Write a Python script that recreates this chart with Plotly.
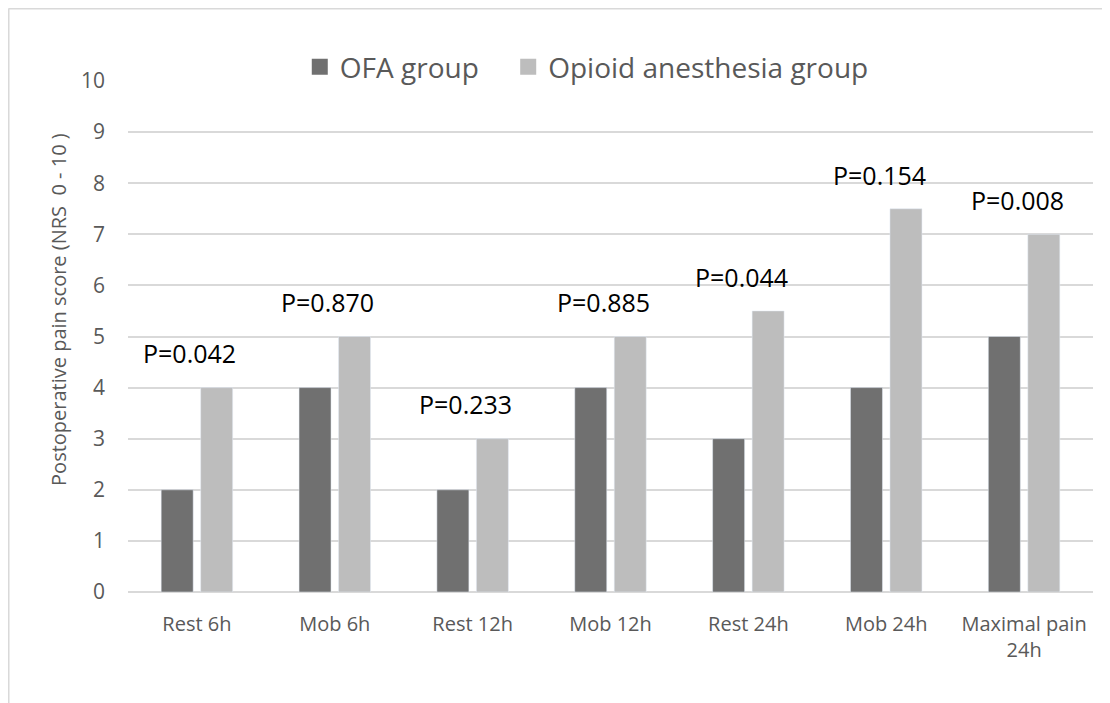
import plotly.graph_objects as go

# Datos
categories = ["Rest 6h", "Mob 6h", "Rest 12h", "Mob 12h", "Rest 24h", "Mob 24h", "Maximal pain<br>24h"]
ofa_group = [2, 4, 2, 4, 3, 4, 5]
opioid_group = [4, 5, 3, 5, 5.5, 7.5, 7]
p_values = ["P=0.042", "P=0.870", "P=0.233", "P=0.885", "P=0.044", "P=0.154", "P=0.008"]

font_name = "Open Sans"
gray_text = "#595959"
grid_color = "#D9D9D9"
ofa_color = "#707070"
opioid_color = "#BDBDBD"

fig = go.Figure()
fig.add_trace(go.Bar(x=categories, y=ofa_group, name="OFA group", marker_color=ofa_color, showlegend=False))
fig.add_trace(go.Bar(x=categories, y=opioid_group, name="Opioid anesthesia group", marker_color=opioid_color, showlegend=False))

# Leyenda con cuadrados más grandes (trazas vacías), una leyenda por elemento para fijar el espacio
fig.add_trace(go.Scatter(x=[None], y=[None], mode="markers", name="OFA group", legend="legend",
                         marker=dict(symbol="square", size=17, color=ofa_color)))
fig.add_trace(go.Scatter(x=[None], y=[None], mode="markers", name="Opioid anesthesia group", legend="legend2",
                         marker=dict(symbol="square", size=17, color=opioid_color)))

# Etiquetas de p encima de cada categoría
for cat, a, b, p in zip(categories, ofa_group, opioid_group, p_values):
    fig.add_annotation(x=cat, y=max(a, b) + 0.67, text=p, showarrow=False, xshift=-7,
                       font=dict(family=font_name, size=25, color="#000000"))

# Título del eje Y como anotación (no está centrado en el eje)
fig.add_annotation(x=-0.0715, y=0.552, xref="paper", yref="paper", textangle=-90,
                   xanchor="center", yanchor="middle",
                   text="Postoperative pain score (NRS  0 - 10 )", showarrow=False,
                   font=dict(family=font_name, size=20, color=gray_text))

# Marco del gráfico (arriba e izquierda)
fig.add_shape(type="line", xref="paper", yref="paper", x0=-0.1238, x1=1.1, y0=1.1419, y1=1.1419,
              line=dict(color=grid_color, width=2))
fig.add_shape(type="line", xref="paper", yref="paper", x0=-0.1238, x1=-0.1238, y0=-0.25, y1=1.1419,
              line=dict(color=grid_color, width=2))

legend_style = dict(orientation="h", xanchor="left", y=0.915, yanchor="middle",
                    xref="paper", yref="container", bgcolor="rgba(0,0,0,0)",
                    font=dict(size=28, color=gray_text), itemwidth=30)

# El cuerpo de la página tiene 8px de margen
fig.update_layout(
    width=1102, height=695,
    margin=dict(l=120, r=17, t=73, b=111, autoexpand=False),
    paper_bgcolor="white", plot_bgcolor="white",
    barmode="group", bargap=0.427, bargroupgap=0.19,
    font=dict(family=font_name, color=gray_text),
    legend=dict(x=0.178, **legend_style),
    legend2=dict(x=0.394, **legend_style),
    showlegend=True,
)
fig.update_yaxes(range=[0, 10], dtick=1, showgrid=True, gridcolor=grid_color, gridwidth=2,
                 zeroline=True, zerolinecolor=grid_color, zerolinewidth=2,
                 tickfont=dict(size=21, color=gray_text), ticklabelstandoff=22)
fig.update_xaxes(showline=False, tickfont=dict(size=20, color=gray_text), ticklabelstandoff=18)

fig.write_html("out.html")
